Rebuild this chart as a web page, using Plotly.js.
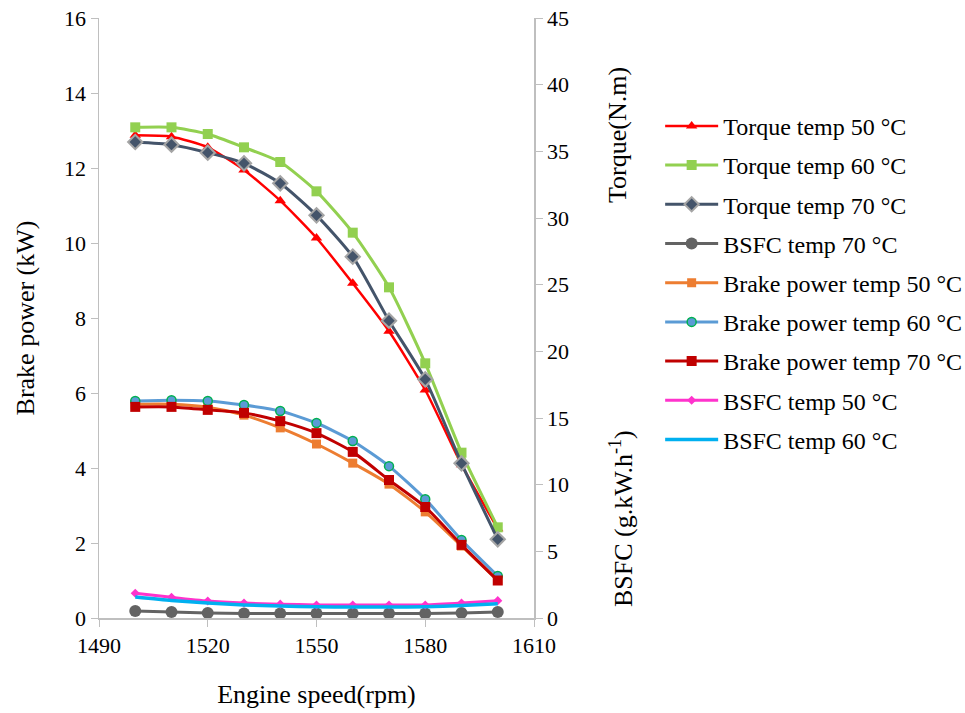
<!DOCTYPE html>
<html>
<head>
<meta charset="utf-8">
<script src="https://cdn.plot.ly/plotly-3.0.1.min.js"></script>
<style>html,body{margin:0;padding:0;background:#fff;}#chart{width:965px;height:713px;}</style>
</head>
<body>
<div id="chart"></div>
<script>
// Engine speed (rpm)
var speed = [1500, 1510, 1520, 1530, 1540, 1550, 1560, 1570, 1580, 1590, 1600];

// Torque (N.m) - right axis
var torque50 = [36.2, 36.1, 35.3, 33.6, 31.3, 28.5, 25.1, 21.5, 17.1, 11.5, 6.7];
var torque60 = [36.8, 36.8, 36.3, 35.3, 34.2, 32.0, 28.9, 24.8, 19.1, 12.4, 6.8];
var torque70 = [35.7, 35.5, 34.9, 34.1, 32.6, 30.2, 27.1, 22.3, 17.9, 11.6, 5.9];

// Brake power (kW) - left axis
var power50 = [5.70, 5.70, 5.62, 5.41, 5.07, 4.64, 4.13, 3.57, 2.83, 1.92, 1.00];
var power60 = [5.79, 5.81, 5.79, 5.68, 5.52, 5.20, 4.72, 4.05, 3.17, 2.08, 1.12];
var power70 = [5.63, 5.63, 5.55, 5.47, 5.25, 4.93, 4.43, 3.68, 2.96, 1.95, 1.00];

// BSFC - right axis
var bsfc50 = [1.86, 1.55, 1.27, 1.12, 1.04, 0.98, 0.98, 0.98, 0.98, 1.12, 1.30];
var bsfc60 = [1.58, 1.32, 1.12, 0.98, 0.90, 0.84, 0.82, 0.82, 0.84, 0.93, 1.07];
var bsfc70 = [0.53, 0.45, 0.37, 0.34, 0.34, 0.34, 0.34, 0.34, 0.34, 0.37, 0.45];

var names = ['Torque temp 50 °C','Torque temp 60 °C','Torque temp 70 °C','BSFC temp 70 °C',
  'Brake power temp 50 °C','Brake power temp 60 °C','Brake power temp 70 °C','BSFC temp 50 °C','BSFC temp 60 °C'];

function tr(i, y, axis, color, width, marker) {
  var t = {x: speed, y: y, name: names[i], yaxis: axis, type: 'scatter',
    mode: marker ? 'lines+markers' : 'lines', legendgroup: 'g' + i,
    line: {color: color, width: width, shape: 'spline', smoothing: 0.6}};
  if (marker) t.marker = marker;
  return t;
}

var data = [
  tr(0, torque50, 'y2', '#FF0000', 2.5, {symbol: 'triangle-up', size: 10, color: '#FF0000'}),
  tr(1, torque60, 'y2', '#92D050', 3, {symbol: 'square', size: 10, color: '#92D050'}),
  tr(2, torque70, 'y2', '#44546A', 3, {symbol: 'diamond', size: 11, color: '#44546A', line: {color: '#A5A5A5', width: 2}}),
  tr(3, bsfc70, 'y2', '#636363', 3, {symbol: 'circle', size: 12, color: '#636363'}),
  tr(4, power50, 'y', '#ED7D31', 3, {symbol: 'square', size: 9, color: '#ED7D31'}),
  tr(5, power60, 'y', '#5B9BD5', 3, {symbol: 'circle', size: 9, color: '#5B9BD5', line: {color: '#00B050', width: 1.5}}),
  tr(6, power70, 'y', '#C00000', 3, {symbol: 'square', size: 10, color: '#C00000'}),
  tr(7, bsfc50, 'y2', '#FF33CC', 3, {symbol: 'diamond', size: 7, color: '#FF33CC'}),
  tr(8, bsfc60, 'y2', '#00B0F0', 3.5, null)
];

var SERIF = '"Liberation Serif", serif';
var axfont = {family: SERIF, size: 22, color: '#000'};
var titlefont = {family: SERIF, size: 26, color: '#000'};
var layout = {
  width: 965, height: 713,
  margin: {l: 99, r: 431, t: 18, b: 95, autoexpand: false},
  paper_bgcolor: '#fff', plot_bgcolor: '#fff',
  font: {family: SERIF, size: 22, color: '#000'},
  showlegend: true,
  legend: {x: 1.29, xanchor: 'left', y: 0.857, yanchor: 'top', tracegroupgap: 5,
    font: {family: SERIF, size: 24, color: '#000'},
    itemwidth: 53, bgcolor: 'rgba(0,0,0,0)'},
  xaxis: {range: [1490, 1610], tickvals: [1490, 1520, 1550, 1580, 1610], showgrid: false, zeroline: false,
    showline: true, linecolor: '#BFBFBF', linewidth: 1.5, ticks: 'outside', ticklen: 7, tickcolor: '#BFBFBF',
    tickfont: axfont, title: {text: 'Engine speed(rpm)', font: titlefont, standoff: 28}},
  yaxis: {range: [0, 16], dtick: 2, showgrid: false, zeroline: false,
    showline: true, linecolor: '#BFBFBF', linewidth: 1.5, ticks: 'outside', ticklen: 7, tickcolor: '#BFBFBF',
    tickfont: axfont, title: {text: 'Brake power (kW)', font: titlefont, standoff: 22}},
  yaxis2: {range: [0, 45], dtick: 5, overlaying: 'y', side: 'right', showgrid: false, zeroline: false,
    showline: true, linecolor: '#BFBFBF', linewidth: 1.5, ticks: 'outside', ticklen: 7, tickcolor: '#BFBFBF',
    tickfont: axfont},
  annotations: [
    {text: 'Torque(N.m)', xref: 'paper', yref: 'paper', x: 1.193, y: 0.805, textangle: -90, showarrow: false,
      font: titlefont, xanchor: 'center', yanchor: 'middle'},
    {text: 'BSFC (g.kW.h<sup>-1</sup>)', xref: 'paper', yref: 'paper', x: 1.2, y: 0.165, textangle: -90, showarrow: false,
      font: titlefont, xanchor: 'center', yanchor: 'middle'}
  ]
};

Plotly.newPlot('chart', data, layout, {displayModeBar: false, staticPlot: true});
</script>
</body>
</html>
